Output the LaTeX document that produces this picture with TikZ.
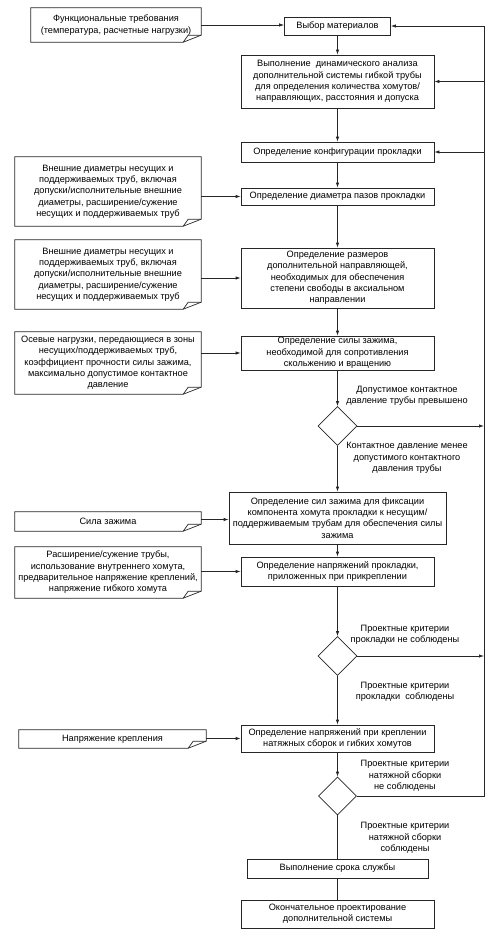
\documentclass[tikz,border=0pt]{standalone}
\usepackage{fontspec}
\setmainfont{Liberation Sans}
\usetikzlibrary{shapes.geometric,arrows.meta}
\tikzset{
  every node/.style={font=\fontsize{9.2}{11.3}\selectfont, align=center, inner sep=0pt},
  ln/.style={line width=0.7pt, draw=black!85},
  arr/.style={ln, -{Latex[length=5pt,width=3.4pt]}},
  procbox/.style={draw=black!85, line width=0.7pt, minimum width=193pt},
  dec/.style={diamond, draw=black!85, line width=0.7pt, minimum width=39pt, minimum height=39pt, aspect=1},
  lbl/.style={},
  notebox/.style={append after command={\pgfextra{
    \draw[ln] (\tikzlastnode.north west) -- (\tikzlastnode.north east)
      -- ([yshift=7pt]\tikzlastnode.south east) -- ([xshift=-18pt]\tikzlastnode.south east)
      -- (\tikzlastnode.south west) -- cycle;
    \draw[ln] ([yshift=7pt]\tikzlastnode.south east) -- ([xshift=-13pt,yshift=7pt]\tikzlastnode.south east)
      -- ([xshift=-18pt]\tikzlastnode.south east);}}}
}
\begin{document}
\begin{tikzpicture}[x=1pt,y=-1pt]
\useasboundingbox (0,0) rectangle (499,939);
% main column
\node[procbox, minimum width=106pt, minimum height=18pt] (b1) at (337.5,26) {Выбор материалов};
\node[procbox, minimum height=53pt] (b2) at (337.5,81.5) {Выполнение\ \ динамического анализа\\дополнительной системы гибкой трубы\\для определения количества хомутов/\\направляющих, расстояния и допуска};
\node[procbox, minimum height=20pt] (b3) at (337.5,152) {Определение конфигурации прокладки};
\node[procbox, minimum height=17pt] (b4) at (337.5,196.5) {Определение диаметра пазов прокладки};
\node[procbox, minimum height=60pt] (b5) at (337.5,278) {Определение размеров\\дополнительной направляющей,\\необходимых для обеспечения\\степени свободы в аксиальном\\направлении};
\node[procbox, minimum height=34pt] (b6) at (337.5,353) {Определение силы зажима,\\необходимой для сопротивления\\скольжению и вращению};
\node[dec] (d1) at (337.5,426) {};
\node[procbox, minimum width=217pt, minimum height=52pt] (b7) at (337.5,518) {Определение сил зажима для фиксации\\компонента хомута прокладки к несущим/\\поддерживаемым трубам для обеспечения силы\\зажима};
\node[procbox, minimum height=29pt] (b8) at (337.5,571.5) {Определение напряжений прокладки,\\приложенных при прикреплении};
\node[dec] (d2) at (337.5,656) {};
\node[procbox, minimum height=27pt] (b9) at (337.5,738.5) {Определение напряжений при креплении\\натяжных сборок и гибких хомутов};
\node[dec, minimum width=38pt, minimum height=38pt] (d3) at (337.5,796) {};
\node[procbox, minimum width=181pt, minimum height=19pt] (b10) at (337.5,868.5) {Выполнение срока службы};
\node[procbox, minimum height=28pt] (b11) at (337.5,914) {Окончательное проектирование\\дополнительной системы};
% inputs
\node[notebox, minimum width=170pt, minimum height=34pt] (n1) at (116,25) {Функциональные требования\\(температура, расчетные нагрузки)};
\node[notebox, minimum width=186pt, minimum height=69pt] (n2) at (108,191.5) {Внешние диаметры несущих и\\поддерживаемых труб, включая\\допуски/исполнительные внешние\\диаметры, расширение/сужение\\несущих и поддерживаемых труб};
\node[notebox, minimum width=186pt, minimum height=69pt] (n3) at (108,274.5) {Внешние диаметры несущих и\\поддерживаемых труб, включая\\допуски/исполнительные внешние\\диаметры, расширение/сужение\\несущих и поддерживаемых труб};
\node[notebox, minimum width=186pt, minimum height=62pt] (n4) at (108,363) {Осевые нагрузки, передающиеся в зоны\\несущих/поддерживаемых труб,\\коэффициент прочности силы зажима,\\максимально допустимое контактное\\давление};
\node[notebox, minimum width=186pt, minimum height=19pt] (n5) at (108,521.5) {Сила зажима};
\node[notebox, minimum width=186pt, minimum height=51pt] (n6) at (108,572.5) {Расширение/сужение трубы,\\использование внутреннего хомута,\\предварительное напряжение креплений,\\напряжение гибкого хомута};
\node[notebox, minimum width=187pt, minimum height=18pt] (n7) at (112.5,739) {Напряжение крепления};
% labels
\node[lbl] (l1) at (407,395.5) {Допустимое контактное\\давление трубы превышено};
\node[lbl] (l2) at (407,458) {Контактное давление менее\\допустимого контактного\\давления трубы};
\node[lbl] (l3) at (405,635) {Проектные критерии\\прокладки не соблюдены};
\node[lbl] (l4) at (405,691.5) {Проектные критерии\\прокладки\ \ соблюдены};
\node[lbl] (l5) at (405,776) {Проектные критерии\\натяжной сборки\\не соблюдены};
\node[lbl] (l6) at (405,838) {Проектные критерии\\натяжной сборки\\соблюдены};
% feedback line
\coordinate (fb) at (484,796);
% vertical flow
\draw[arr] (b1) -- (b2);
\draw[arr] (b2) -- (b3);
\draw[arr] (b3) -- (b4);
\draw[arr] (b4) -- (b5);
\draw[arr] (b5) -- (b6);
\draw[arr] (b6) -- (d1);
\draw[arr] (d1) -- (b7);
\draw[arr] (b7) -- (b8);
\draw[arr] (b8) -- (d2);
\draw[arr] (d2) -- (b9);
\draw[arr] (b9) -- (d3);
\draw[ln] (d3) -- (b10);
\draw[ln] (b10) -- (b11);
% inputs arrows
\draw[arr] (n1.east) -- (n1.east -| b1.west);
\draw[arr] (b4.west -| n2.east) -- (b4.west);
\draw[arr] (b5.west -| n3.east) -- (b5.west);
\draw[arr] (b6.west -| n4.east) -- (b6.west);
\draw[arr] ([yshift=2pt]n5.east) -- ([yshift=2pt]n5.east -| b7.west);
\draw[arr] (b8.west -| n6.east) -- (b8.west);
\draw[arr] (b9.west -| n7.east) -- (b9.west);
% feedback
\draw[arr] (d3.east) -- (fb) |- (b1.east);
\draw[arr] (b2.east -| fb) -- (b2.east);
\draw[arr] (b3.east -| fb) -- (b3.east);
\draw[arr] (d1.east) -- (d1.east -| fb);
\draw[arr] (d2.east) -- (d2.east -| fb);
\end{tikzpicture}
\end{document}
